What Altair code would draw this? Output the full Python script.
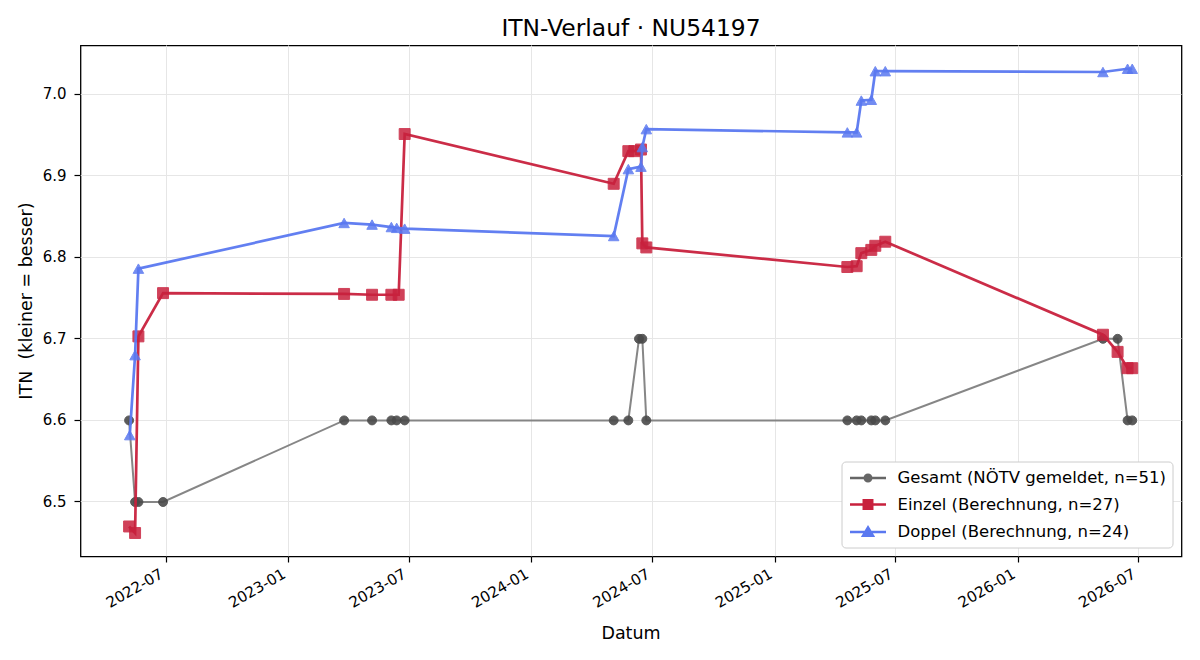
import altair as alt
import pandas as pd

# ---------------- data ----------------
title_text = "ITN-Verlauf · NU54197"
x_title = "Datum"
y_title = "ITN\u00a0 (kleiner = besser)"

series_names = [
    "Gesamt (NÖTV gemeldet, n=51)",
    "Einzel (Berechnung, n=27)",
    "Doppel (Berechnung, n=24)",
]

gesamt_dates = [
    "2022-05-06", "2022-05-15", "2022-05-20", "2022-06-26",
    "2023-03-25", "2023-05-06", "2023-06-04", "2023-06-12", "2023-06-24",
    "2024-05-03", "2024-05-25", "2024-06-10", "2024-06-15", "2024-06-21",
    "2025-04-19", "2025-05-03", "2025-05-10", "2025-05-25", "2025-05-31", "2025-06-15",
    "2026-05-08", "2026-05-30", "2026-06-14", "2026-06-21",
]
gesamt_itn = [
    6.6, 6.5, 6.5, 6.5,
    6.6, 6.6, 6.6, 6.6, 6.6,
    6.6, 6.6, 6.7, 6.7, 6.6,
    6.6, 6.6, 6.6, 6.6, 6.6, 6.6,
    6.7, 6.7, 6.6, 6.6,
]

einzel_dates = [
    "2022-05-06", "2022-05-15", "2022-05-20", "2022-06-26",
    "2023-03-25", "2023-05-06", "2023-06-04", "2023-06-15", "2023-06-24",
    "2024-05-03", "2024-05-25", "2024-06-03", "2024-06-13", "2024-06-15", "2024-06-21",
    "2025-04-19", "2025-05-03", "2025-05-10", "2025-05-25", "2025-05-31", "2025-06-15",
    "2026-05-08", "2026-05-30", "2026-06-14", "2026-06-21",
]
einzel_itn = [
    6.470, 6.462, 6.703, 6.756,
    6.755, 6.754, 6.754, 6.754, 6.951,
    6.890, 6.930, 6.930, 6.932, 6.817, 6.812,
    6.788, 6.789, 6.805, 6.809, 6.814, 6.819,
    6.705, 6.684, 6.664, 6.664,
]

doppel_dates = [
    "2022-05-07", "2022-05-15", "2022-05-20",
    "2023-03-25", "2023-05-06", "2023-06-04", "2023-06-12", "2023-06-24",
    "2024-05-03", "2024-05-25", "2024-06-13", "2024-06-15", "2024-06-21",
    "2025-04-19", "2025-05-03", "2025-05-10", "2025-05-25", "2025-05-31", "2025-06-15",
    "2026-05-08", "2026-06-14", "2026-06-21",
]
doppel_itn = [
    6.582, 6.680, 6.786,
    6.842, 6.840, 6.837, 6.836, 6.835,
    6.826, 6.908, 6.911, 6.935, 6.957,
    6.953, 6.953, 6.992, 6.993, 7.028, 7.028,
    7.027, 7.031, 7.031,
]

x_tick_years = [2022, 2023, 2023, 2024, 2024, 2025, 2025, 2026, 2026]
x_tick_months = [7, 1, 7, 1, 7, 1, 7, 1, 7]
y_ticks = [6.5, 6.6, 6.7, 6.8, 6.9, 7.0]

# ---------------- style ----------------
FONT = "DejaVu Sans"
line_colors = ["#808080", "#C8213D", "#5A78F0"]
marker_colors = ["#4a4a4a", "#C8213D", "#5A78F0"]
legend_colors = ["#666666", "#C8213D", "#5A78F0"]
line_widths = [2.0, 2.7, 2.7]
marker_shapes = ["circle", "square", "M0,-0.9L1,0.9L-1,0.9Z"]
marker_sizes = [80, 120, 110]
marker_opac = [0.9, 0.85, 0.85]
legend_paths = [
    "M-2,0H2M0.36,0A0.36,0.36,0,1,1,-0.36,0A0.36,0.36,0,1,1,0.36,0Z",
    "M-2,0H2M-0.47,-0.47H0.47V0.47H-0.47Z",
    "M-2,0H2M0,-0.5L0.55,0.42H-0.55Z",
]

x_scale = alt.Scale(
    domain=[alt.DateTime(year=2022, month=2, date=22), alt.DateTime(year=2026, month=9, date=3)],
    nice=False,
)
y_scale = alt.Scale(domain=[6.4332, 7.0595], nice=False, zero=False)

x_axis = alt.Axis(
    values=[alt.DateTime(year=y, month=m, date=1) for y, m in zip(x_tick_years, x_tick_months)],
    format="%Y-%m",
    labelAngle=330,
    labelAlign="right",
    labelBaseline="top",
    labelPadding=4,
    labelOffset=-8,
    labelFontSize=15,
    labelFont=FONT,
    labelColor="black",
    tickSize=6,
    tickColor="black",
    tickWidth=1.2,
    domain=False,
    grid=True,
    gridColor="#e6e6e6",
    gridWidth=1,
    title=x_title,
    titleFont=FONT,
    titleFontSize=17.5,
    titleFontWeight="normal",
    titleColor="black",
    titlePadding=14,
    labelOverlap=False,
)
y_axis = alt.Axis(
    values=y_ticks,
    format=".1f",
    labelPadding=8,
    labelFontSize=15,
    labelFont=FONT,
    labelColor="black",
    tickSize=6,
    tickColor="black",
    tickWidth=1.2,
    domain=False,
    grid=True,
    gridColor="#e6e6e6",
    gridWidth=1,
    title=y_title,
    titleFont=FONT,
    titleFontSize=17.5,
    titleFontWeight="normal",
    titleColor="black",
    titlePadding=7,
)

series_data = [
    (gesamt_dates, gesamt_itn),
    (einzel_dates, einzel_itn),
    (doppel_dates, doppel_itn),
]

layers = []
for i, (dates, vals) in enumerate(series_data):
    df = pd.DataFrame({"Datum": pd.to_datetime(dates), "ITN": vals})
    base = alt.Chart(df).encode(
        x=alt.X("Datum:T", scale=x_scale, axis=x_axis),
        y=alt.Y("ITN:Q", scale=y_scale, axis=y_axis),
    )
    layers.append(base.mark_line(color=line_colors[i], strokeWidth=line_widths[i], opacity=0.95))
    layers.append(
        base.mark_point(
            filled=True,
            shape=marker_shapes[i],
            size=marker_sizes[i],
            color=marker_colors[i],
            stroke=marker_colors[i],
            strokeWidth=1,
            opacity=marker_opac[i],
        )
    )

# legend-only layer (its points lie outside the y domain and are clipped)
legend_df = pd.DataFrame({
    "Datum": pd.to_datetime(["2024-01-01"] * 3),
    "ITN": [5.0] * 3,
    "Serie": series_names,
})
leg = alt.Legend(
    title=None,
    orient="bottom-right",
    offset=9,
    labelFont=FONT,
    labelFontSize=16.5,
    labelColor="black",
    labelLimit=0,
    labelOffset=19,
    symbolSize=324,
    symbolOffset=10,
    symbolStrokeWidth=2.5,
    rowPadding=7.5,
    padding=6,
    strokeColor="#cccccc",
    fillColor="#ffffff",
    cornerRadius=4,
)
legend_layer = alt.Chart(legend_df).mark_point(
    filled=True, clip=True, size=324, strokeWidth=2.5, opacity=1
).encode(
    x=alt.X("Datum:T", scale=x_scale, axis=x_axis),
    y=alt.Y("ITN:Q", scale=y_scale, axis=y_axis),
    fill=alt.Fill("Serie:N", scale=alt.Scale(domain=series_names, range=legend_colors), legend=leg),
    stroke=alt.Stroke("Serie:N", scale=alt.Scale(domain=series_names, range=legend_colors), legend=leg),
    shape=alt.Shape("Serie:N", scale=alt.Scale(domain=series_names, range=legend_paths), legend=leg),
)
layers.append(legend_layer)

chart = (
    alt.layer(*layers)
    .properties(
        width=1101,
        height=511,
        background="white",
        title=alt.TitleParams(
            title_text, font=FONT, fontSize=23.4, fontWeight="normal", color="black",
            anchor="middle", offset=4,
        ),
        autosize=alt.AutoSizeParams(type="none"),
        padding={"left": 80.5, "top": 45.5, "right": 18.5, "bottom": 103.5},
    )
    .configure_view(stroke="black", strokeWidth=1.3)
    .configure_axis(translate=0)
)

chart.save("out.html", embed_options={"renderer": "svg", "actions": False})
